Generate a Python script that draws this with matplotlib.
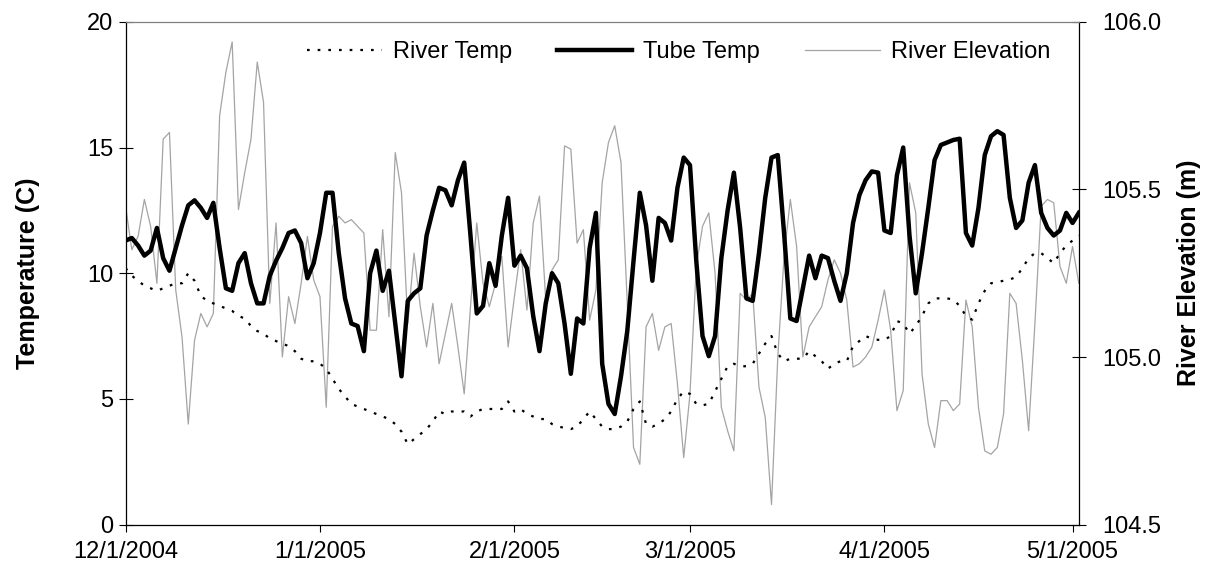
import pandas as pd
import matplotlib
matplotlib.use("Agg")
import matplotlib.pyplot as plt

plt.rcParams['font.family'] = ['Liberation Sans', 'DejaVu Sans']

# daily readings, 12/1/2004 .. 5/2/2005
dates = pd.date_range("2004-12-01", "2005-05-02", freq="D")

tube_temp = [
    11.3, 11.4, 11.1, 10.7, 10.9, 11.8, 10.6, 10.1, 11.0, 11.9,
    12.7, 12.9, 12.6, 12.2, 12.8, 11.0, 9.4, 9.3, 10.4, 10.8,
    9.6, 8.8, 8.8, 9.9, 10.5, 11.0, 11.6, 11.7, 11.2, 9.8,
    10.4, 11.6, 13.2, 13.2, 10.8, 9.0, 8.0, 7.9, 6.9, 10.0,
    10.9, 9.3, 10.1, 8.0, 5.9, 8.9, 9.2, 9.4, 11.5, 12.5,
    13.4, 13.3, 12.7, 13.7, 14.4, 11.5, 8.4, 8.7, 10.4, 9.5,
    11.5, 13.0, 10.3, 10.7, 10.2, 8.3, 6.9, 8.8, 10.0, 9.6,
    8.0, 6.0, 8.2, 8.0, 11.0, 12.4, 6.4, 4.8, 4.4, 5.9,
    7.7, 10.5, 13.2, 11.9, 9.7, 12.2, 12.0, 11.3, 13.4, 14.6,
    14.3, 10.5, 7.5, 6.7, 7.5, 10.6, 12.5, 14.0, 11.8, 9.0,
    8.9, 10.8, 13.0, 14.6, 14.7, 11.6, 8.2, 8.1, 9.4, 10.7,
    9.8, 10.7, 10.6, 9.7, 8.9, 10.0, 12.0, 13.1, 13.7, 14.05,
    14.0, 11.7, 11.6, 13.9, 15.0, 11.5, 9.2, 10.8, 12.6, 14.5,
    15.1, 15.2, 15.3, 15.35, 11.6, 11.1, 12.6, 14.7, 15.45, 15.65,
    15.5, 13.0, 11.8, 12.1, 13.6, 14.3, 12.4, 11.8, 11.5, 11.7,
    12.4, 12.0, 12.4,
]

river_temp = [
    10.2, 9.9, 9.7, 9.5, 9.4, 9.3, 9.4, 9.5, 9.6, 9.6,
    10.0, 9.7, 9.1, 8.9, 8.8, 8.7, 8.6, 8.5, 8.3, 8.2,
    7.9, 7.7, 7.6, 7.4, 7.3, 7.2, 7.1, 6.9, 6.6, 6.5,
    6.5, 6.4, 6.2, 5.8, 5.4, 5.1, 4.8, 4.7, 4.6, 4.5,
    4.4, 4.3, 4.2, 4.0, 3.7, 3.2, 3.4, 3.6, 3.8, 4.1,
    4.5, 4.4, 4.5, 4.5, 4.5, 4.3, 4.5, 4.6, 4.6, 4.6,
    4.6, 4.9, 4.5, 4.6, 4.4, 4.3, 4.2, 4.2, 4.0, 3.9,
    3.85, 3.8, 3.9, 4.2, 4.5, 4.2, 3.9, 3.8, 3.8, 3.9,
    4.1, 4.6, 4.9, 4.0, 3.9, 4.0, 4.2, 4.5, 5.0, 5.3,
    5.2, 4.8, 4.75, 4.8, 5.3, 5.8, 6.3, 6.4, 6.3, 6.3,
    6.4, 6.8, 7.2, 7.5, 6.8, 6.5, 6.6, 6.6, 6.6, 6.9,
    6.7, 6.5, 6.2, 6.4, 6.5, 6.5, 7.1, 7.3, 7.5, 7.4,
    7.35, 7.35, 7.5, 8.1, 8.0, 7.6, 7.9, 8.3, 8.8, 9.0,
    9.0, 9.0, 8.95, 8.7, 8.3, 8.15, 8.8, 9.3, 9.6, 9.65,
    9.7, 9.75, 9.85, 10.2, 10.6, 10.8, 10.8, 10.6, 10.4, 10.8,
    11.1, 11.3, 11.5,
]

river_elev = [
    105.45, 105.32, 105.36, 105.47, 105.39, 105.22, 105.65, 105.67, 105.20, 105.06,
    104.80, 105.05, 105.13, 105.09, 105.13, 105.72, 105.85, 105.94, 105.44, 105.55,
    105.65, 105.88, 105.76, 105.16, 105.40, 105.00, 105.18, 105.10, 105.22, 105.36,
    105.23, 105.18, 104.85, 105.39, 105.42, 105.40, 105.41, 105.39, 105.37, 105.08,
    105.08, 105.38, 105.12, 105.61, 105.49, 105.10, 105.31, 105.15, 105.03, 105.16,
    104.98, 105.07, 105.16, 105.03, 104.89, 105.15, 105.40, 105.22, 105.15, 105.22,
    105.30, 105.03, 105.18, 105.32, 105.14, 105.40, 105.48, 105.17, 105.26, 105.29,
    105.63, 105.62, 105.34, 105.38, 105.11, 105.20, 105.52, 105.64, 105.69, 105.58,
    105.16, 104.73, 104.68, 105.09, 105.13, 105.02, 105.09, 105.10, 104.92, 104.70,
    104.89, 105.27, 105.39, 105.43, 105.25, 104.85, 104.78, 104.72, 105.19, 105.17,
    105.19, 104.91, 104.82, 104.56, 105.00, 105.30, 105.47, 105.33, 105.00, 105.09,
    105.12, 105.15, 105.23, 105.29, 105.25, 105.17, 104.97, 104.98, 105.00, 105.03,
    105.11, 105.20, 105.08, 104.84, 104.90, 105.52, 105.43, 104.95, 104.80, 104.73,
    104.87, 104.87, 104.84, 104.86, 105.17, 105.09, 104.85, 104.72, 104.71, 104.73,
    104.83, 105.19, 105.16, 104.99, 104.78, 105.10, 105.45, 105.47, 105.46, 105.27,
    105.22, 105.33, 105.22,
]

tick_dates = pd.to_datetime(["2004-12-01", "2005-01-01", "2005-02-01",
                             "2005-03-01", "2005-04-01", "2005-05-01"])
tick_labels = ["12/1/2004", "1/1/2005", "2/1/2005", "3/1/2005", "4/1/2005", "5/1/2005"]
temp_ticks = [0, 5, 10, 15, 20]
elev_ticks = [104.5, 105.0, 105.5, 106.0]

fig, ax = plt.subplots(figsize=(12.19, 5.74), dpi=100)
fig.subplots_adjust(left=0.103, right=0.885, top=0.962, bottom=0.086)
ax2 = ax.twinx()

# temperature axis drawn above the elevation axis
ax.set_zorder(ax2.get_zorder() + 1)
ax.patch.set_visible(False)

l3, = ax2.plot(dates, river_elev, color='#a4a4a4', lw=0.9, label='River Elevation')
l1, = ax.plot(dates, river_temp, color='black', lw=1.6, ls=(0, (1.2, 3.6)), label='River Temp')
l2, = ax.plot(dates, tube_temp, color='black', lw=3.2, label='Tube Temp')

ax.set_xlim(pd.Timestamp("2004-12-01"), pd.Timestamp("2005-05-02"))
ax.set_ylim(0, 20)
ax2.set_ylim(104.5, 106.0)

ax.set_xticks(tick_dates)
ax.set_xticklabels(tick_labels)
ax.set_yticks(temp_ticks)
ax.set_yticklabels([str(t) for t in temp_ticks])
ax2.set_yticks(elev_ticks)
ax2.set_yticklabels([f"{e:.1f}" for e in elev_ticks])

ax.tick_params(axis='x', direction='out', length=5, width=0.8, labelsize=17, pad=7)
ax.tick_params(axis='y', direction='inout', length=10, width=0.8, labelsize=17, pad=4)
ax2.tick_params(axis='y', direction='inout', length=10, width=0.8, labelsize=17, pad=12)

for a in (ax, ax2):
    for s in a.spines.values():
        s.set_linewidth(0.9)
ax.spines['right'].set_visible(False)
ax.spines['top'].set_color('#808080')
ax2.spines['top'].set_visible(False)
ax2.spines['left'].set_visible(False)
ax2.spines['bottom'].set_visible(False)

ax.set_ylabel('Temperature (C)', fontsize=18, fontweight='bold')
ax2.set_ylabel('River Elevation (m)', fontsize=18, fontweight='bold')
ax.yaxis.set_label_coords(-0.09, 0.5)
ax2.yaxis.set_label_coords(1.103, 0.5)

ax.legend(handles=[l1, l2, l3], loc='center', bbox_to_anchor=(0.58, 0.94), ncol=3,
          frameon=False, fontsize=17, handlelength=3.2, handletextpad=0.45,
          columnspacing=1.9, borderpad=0)

fig.savefig("out.png", dpi=100)
